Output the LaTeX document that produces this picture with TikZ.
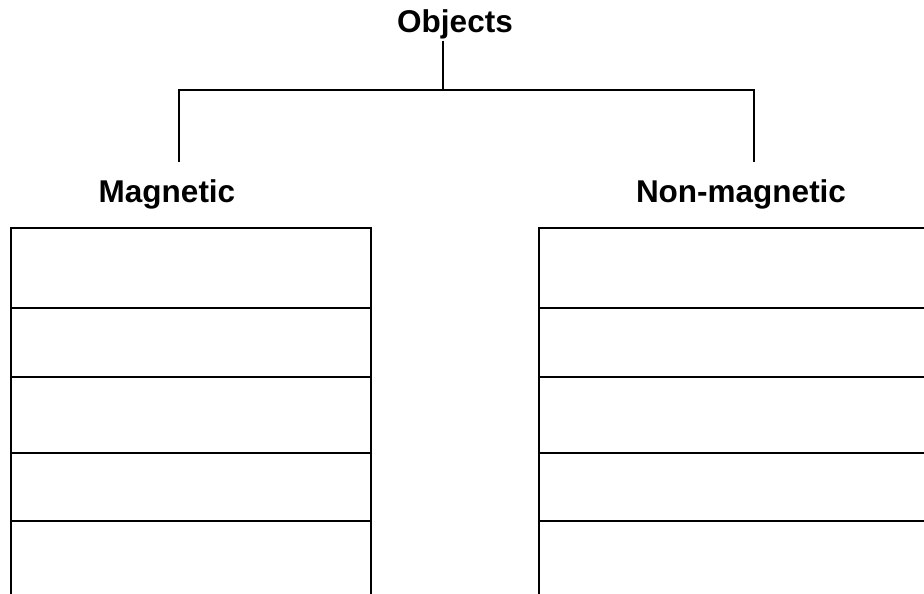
\documentclass[tikz,border=0pt]{standalone}
\usepackage{fontspec}
\setmainfont{Liberation Sans}
\usepackage{tikz}

\begin{document}
\begin{tikzpicture}[x=1pt,y=-1pt,line width=2.4pt,head/.style={font=\fontsize{31.5}{37}\selectfont\bfseries, inner sep=0pt, anchor=base}]
            \useasboundingbox (0,0) rectangle (924,594);

            \node[head] (obj) at (455,33) {Objects};
            \node[head] (mag) at (167,202) {Magnetic};
            \node[head] (non) at (741,202) {Non-magnetic};

            \coordinate (top) at (443,90);
            \coordinate (magtop) at (179,90);
            \coordinate (nontop) at (754,90);
            \coordinate (magdrop) at (179,162);
            \coordinate (nondrop) at (754,162);

            \draw (obj.south -| top) -- (top);
            \draw (magdrop) -- (magtop) -- (nontop) -- (nondrop);

            % tables
            \draw (11,594) -- (11,228) -- (371,228) -- (371,594);
            \draw (539,594) -- (539,228) -- (924,228);
            \foreach \y in {308,377,453,521} {
              \draw (11,\y) -- (371,\y);
              \draw (539,\y) -- (924,\y);
            }
          \end{tikzpicture}
\end{document}
